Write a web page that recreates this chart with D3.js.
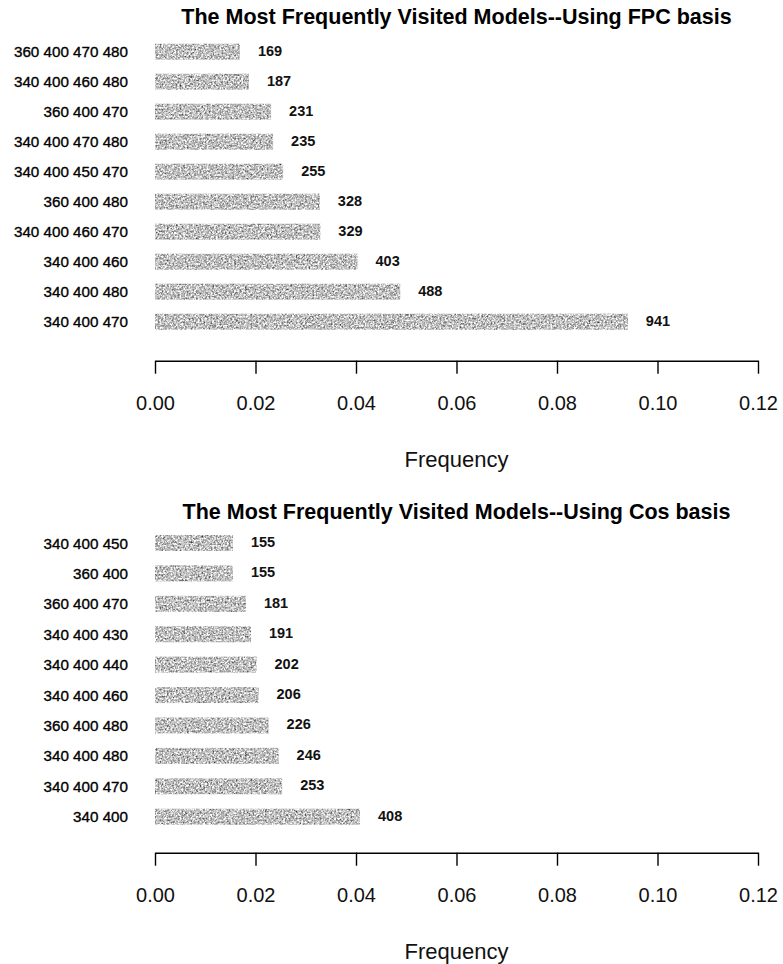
<!DOCTYPE html>
<html>
<head>
<meta charset="utf-8">
<script src="https://cdn.jsdelivr.net/npm/d3@7"></script>
<style>
  html, body { margin: 0; padding: 0; background: #fff; }
  svg { display: block; font-family: "Liberation Sans", Arial, Helvetica, sans-serif; }
</style>
</head>
<body>
<svg id="chart" width="783" height="964"></svg>
<script>
// Posterior model visit counts out of all MCMC draws (listed top to bottom)
const totalDraws = 10000;

const fpcModels = ["360 400 470 480", "340 400 460 480", "360 400 470", "340 400 470 480",
                   "340 400 450 470", "360 400 480", "340 400 460 470", "340 400 460",
                   "340 400 480", "340 400 470"];
const fpcCounts = [169, 187, 231, 235, 255, 328, 329, 403, 488, 941];

const cosModels = ["340 400 450", "360 400", "360 400 470", "340 400 430", "340 400 440",
                   "340 400 460", "360 400 480", "340 400 480", "340 400 470", "340 400"];
const cosCounts = [155, 155, 181, 191, 202, 206, 226, 246, 253, 408];

const xTicks = [0, 0.02, 0.04, 0.06, 0.08, 0.10, 0.12];

const svg = d3.select("#chart");

// grainy grey fill for the bars
const defs = svg.append("defs");
const grain = defs.append("filter")
  .attr("id", "grain")
  .attr("x", 0).attr("y", 0).attr("width", 1).attr("height", 1)
  .attr("color-interpolation-filters", "sRGB");
grain.append("feTurbulence")
  .attr("type", "fractalNoise").attr("baseFrequency", 0.55)
  .attr("numOctaves", 3).attr("seed", 7).attr("result", "noise");
grain.append("feColorMatrix")
  .attr("in", "noise").attr("type", "matrix")
  .attr("values", "0.7 0.7 0.7 0 -0.30  0.7 0.7 0.7 0 -0.30  0.7 0.7 0.7 0 -0.30  0 0 0 0 1")
  .attr("result", "grey");
grain.append("feComposite")
  .attr("in", "grey").attr("in2", "SourceGraphic").attr("operator", "in");

const x = d3.scaleLinear().domain([0, 0.12]).range([155, 758]);

function panel(opts) {
  const g = svg.append("g");
  const y = d3.scalePoint().domain(opts.models).range([opts.firstY, opts.lastY]);
  const barH = 16;
  const rows = opts.models.map((m, i) => ({ model: m, count: opts.counts[i] }));

  g.append("text")
    .attr("x", (x.range()[0] + x.range()[1]) / 2)
    .attr("y", opts.titleY)
    .attr("text-anchor", "middle")
    .attr("dominant-baseline", "central")
    .attr("font-size", 21.5).attr("font-weight", "bold")
    .text(opts.title);

  g.selectAll("rect.bar").data(rows).join("rect")
    .attr("class", "bar")
    .attr("x", x(0))
    .attr("y", d => y(d.model) - barH / 2)
    .attr("width", d => x(d.count / totalDraws) - x(0))
    .attr("height", barH)
    .attr("fill", "#999")
    .attr("filter", "url(#grain)");

  g.selectAll("text.cat").data(rows).join("text")
    .attr("class", "cat")
    .attr("x", 128)
    .attr("y", d => y(d.model))
    .attr("text-anchor", "end")
    .attr("dominant-baseline", "central")
    .attr("font-size", 15.2)
    .attr("fill", "#000")
    .attr("stroke", "#000").attr("stroke-width", 0.35)
    .text(d => d.model);

  g.selectAll("text.val").data(rows).join("text")
    .attr("class", "val")
    .attr("x", d => x(d.count / totalDraws) + 18)
    .attr("y", d => y(d.model) - 1)
    .attr("dominant-baseline", "central")
    .attr("font-size", 14.5).attr("font-weight", "bold")
    .attr("fill", "#111")
    .text(d => d.count);

  const axis = d3.axisBottom(x)
    .tickValues(xTicks)
    .tickFormat(d3.format(".2f"))
    .tickSizeInner(13).tickSizeOuter(0).tickPadding(22);
  const ax = g.append("g")
    .attr("transform", `translate(0,${opts.axisY})`)
    .call(axis);
  ax.select(".domain").attr("stroke", "#000").attr("stroke-width", 1.4);
  ax.selectAll(".tick line").attr("stroke", "#000").attr("stroke-width", 1.4);
  ax.selectAll(".tick text")
    .attr("font-size", 20)
    .attr("font-family", "Liberation Sans, Arial, sans-serif")
    .attr("fill", "#111");

  g.append("text")
    .attr("x", (x.range()[0] + x.range()[1]) / 2)
    .attr("y", opts.xTitleY)
    .attr("text-anchor", "middle")
    .attr("dominant-baseline", "central")
    .attr("font-size", 22)
    .attr("fill", "#111")
    .text("Frequency");
}

panel({
  title: "The Most Frequently Visited Models--Using FPC basis",
  models: fpcModels, counts: fpcCounts,
  titleY: 17, firstY: 51.7, lastY: 321.7, axisY: 360.7, xTitleY: 459
});

panel({
  title: "The Most Frequently Visited Models--Using Cos basis",
  models: cosModels, counts: cosCounts,
  titleY: 512, firstY: 543, lastY: 816.7, axisY: 852.7, xTitleY: 951
});
</script>
</body>
</html>
